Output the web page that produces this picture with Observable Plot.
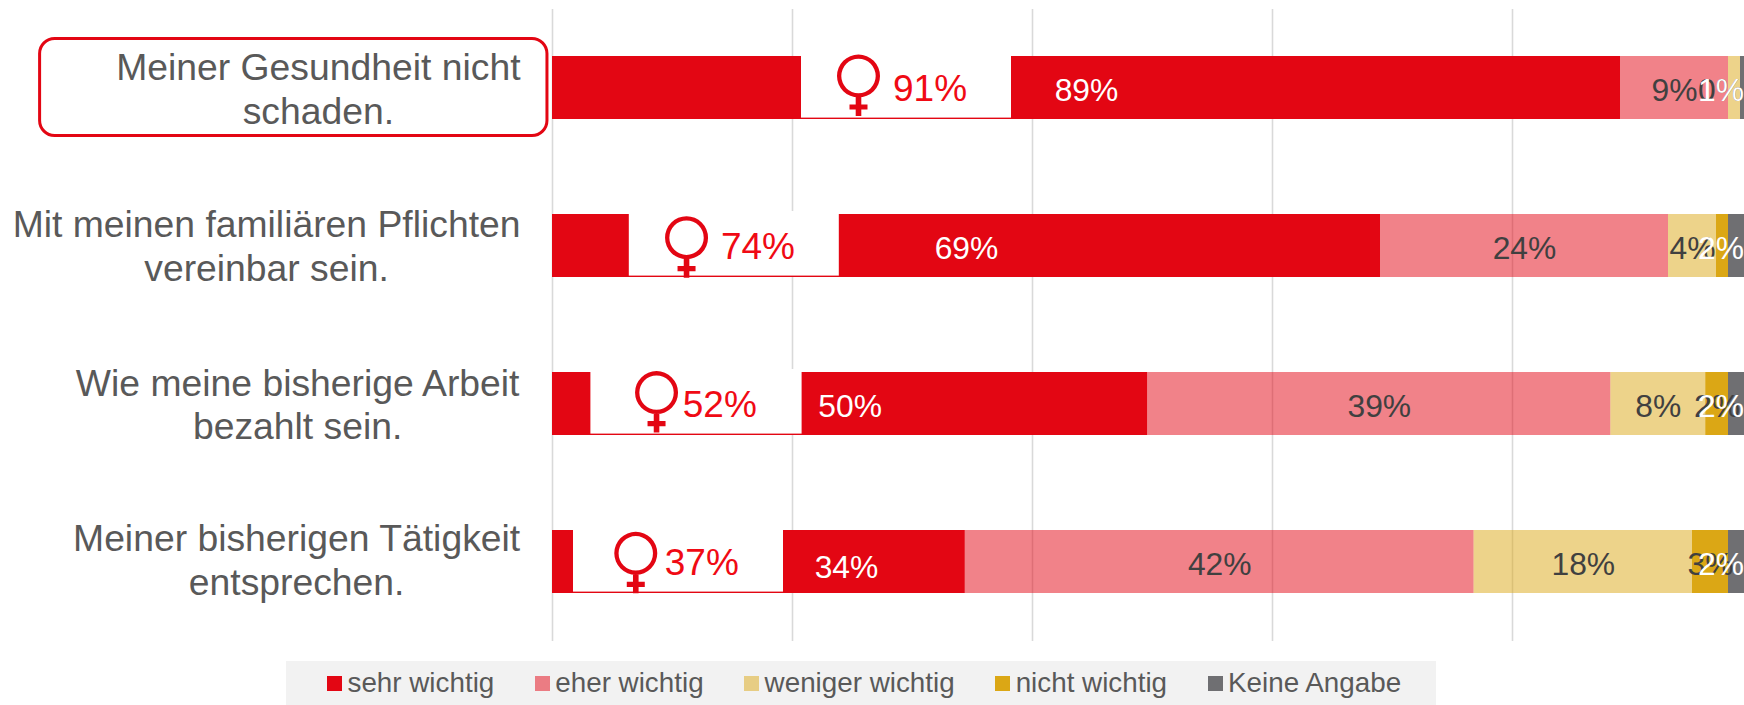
<!DOCTYPE html>
<html lang="de">
<head>
<meta charset="utf-8">
<script src="https://cdn.jsdelivr.net/npm/d3@7"></script>
<script src="https://cdn.jsdelivr.net/npm/@observablehq/plot@0.6"></script>
<style>
html,body{margin:0;padding:0;background:#fff;overflow:hidden}
#chart svg{display:block}
#legend{position:absolute;left:286px;top:661px;width:1150px;height:44px;background:#f2f2f2;overflow:hidden}
#legend > div{display:flex !important;align-items:center !important;height:44px !important;min-height:44px !important;margin:0 !important;padding:0 0 0 41px !important;
  font-family:"Liberation Sans",Arial,sans-serif !important;font-size:27.8px !important;color:#595959 !important;flex-wrap:nowrap !important}
#legend span{display:inline-flex !important;align-items:center !important;margin:0 40.5px 0 0 !important;white-space:nowrap}
#legend span svg{margin:0 5.5px 0 0 !important;display:block}
</style>
</head>
<body>
<div id="chart"></div>
<div id="legend"></div>
<script>
const categories = [
  "Meiner Gesundheit nicht\nschaden.",
  "Mit meinen familiären Pflichten\nvereinbar sein.",
  "Wie meine bisherige Arbeit\nbezahlt sein.",
  "Meiner bisherigen Tätigkeit\nentsprechen."
];
const series = ["sehr wichtig", "eher wichtig", "weniger wichtig", "nicht wichtig", "Keine Angabe"];
const colors = ["#E30613", "rgba(227,6,19,0.5)", "rgba(219,167,21,0.5)", "#DBA715", "#6F6F72"];

const sehrWichtig    = [89, 69, 49.6, 34.4];
const eherWichtig    = [9, 24, 38.6, 42.4];
const wenigerWichtig = [1, 4, 7.9, 18.2];
const nichtWichtig   = [0, 1, 1.9, 3];
const keineAngabe    = [1, 2, 2, 2];

const sehrLabels    = ["89%", "69%", "50%", "34%"];
const eherLabels    = ["9%", "24%", "39%", "42%"];
const wenigerLabels = ["", "4%", "8%", "18%"];
const nichtLabels   = ["0%", "", "2%", "3%"];
const keineLabels   = ["1%", "2%", "2%", "2%"];

const femaleValues = ["91%", "74%", "52%", "37%"];

// layout, in x-scale units (percent) and pixels
const femalePatchStart = [20.75, 6.4, 3.2, 1.75];
const femalePatchEnd   = [38.25, 23.9, 20.8, 19.25];
const femaleIconX      = [25.5, 11.17, 8.67, 6.94];
const femaleIconDy     = [-12, -8.3, -11.4, -8.7];
const femaleTextX      = [31.46, 17.12, 13.94, 12.44];
const sehrLabelShift   = [null, null, null, 24.5];
const categoryDy       = [0, -1, -0.5, -3];

const valueSeries = [sehrWichtig, eherWichtig, wenigerWichtig, nichtWichtig, keineAngabe];
const labelSeries = [sehrLabels, eherLabels, wenigerLabels, nichtLabels, keineLabels];

const segments = [];
const labels = [];
categories.forEach((cat, r) => {
  let acc = 0;
  series.forEach((name, s) => {
    const value = valueSeries[s][r];
    segments.push({cat, name, value});
    const text = labelSeries[s][r];
    if (text) {
      let x = acc + value / 2;
      if (s === 0 && sehrLabelShift[r] != null) x = sehrLabelShift[r];
      x = Math.min(x, 97.375);
      labels.push({cat, x, text, dy: (s === 0 && r === 3) ? 6 : 3, white: s === 0 || s === 4});
    }
    acc += value;
  });
});

const female = categories.map((cat, i) => ({
  cat, x1: femalePatchStart[i], x2: femalePatchEnd[i], icon: femaleIconX[i],
  dy: femaleIconDy[i], tx: femaleTextX[i], text: femaleValues[i]
}));

// Venus glyph as a custom symbol for Plot.dot
const venus = {
  draw(ctx) {
    const R = 21.5, r = 17.2, sw = 2.8, bottom = 40, barY = 31, barH = 2.6, barW = 9;
    ctx.moveTo(R, 0);
    ctx.arc(0, 0, R, 0, 2 * Math.PI);
    ctx.closePath();
    ctx.moveTo(r, 0);
    ctx.arc(0, 0, r, 0, -2 * Math.PI, true);
    ctx.closePath();
    ctx.moveTo(-sw, R - 1);
    ctx.lineTo(sw, R - 1);
    ctx.lineTo(sw, barY - barH);
    ctx.lineTo(barW, barY - barH);
    ctx.lineTo(barW, barY + barH);
    ctx.lineTo(sw, barY + barH);
    ctx.lineTo(sw, bottom);
    ctx.lineTo(-sw, bottom);
    ctx.lineTo(-sw, barY + barH);
    ctx.lineTo(-barW, barY + barH);
    ctx.lineTo(-barW, barY - barH);
    ctx.lineTo(-sw, barY - barH);
    ctx.closePath();
  }
};

const font = '"Liberation Sans", Arial, sans-serif';
const catSize = 37.3;
const pxPerUnit = 12;
const ctx2d = document.createElement("canvas").getContext("2d");
ctx2d.font = `${catSize}px "Liberation Sans"`;
const catRows = categories.map((cat, i) => {
  const w = Math.max(...cat.split("\n").map(t => ctx2d.measureText(t).width));
  return {cat, x: (-32 - w / 2) / pxPerUnit, dy: categoryDy[i]};
});

const plot = Plot.plot({
  width: 1744,
  height: 661,
  marginTop: 9,
  marginBottom: 20,
  marginLeft: 552,
  marginRight: 0,
  style: {fontFamily: font, background: "#fff", overflow: "hidden"},
  x: {domain: [0, 100], range: [552, 1752], axis: null},
  y: {domain: categories, paddingInner: 0.6, paddingOuter: 0.3, axis: null},
  color: {domain: series, range: colors},
  marks: [
    Plot.ruleX([0, 20, 40, 60, 80], {stroke: "#d9d9d9", strokeWidth: 1.6}),
    Plot.barX(segments, {x: "value", y: "cat", fill: "name", order: null}),
    Plot.barX(female, {x1: "x1", x2: "x2", y: "cat", fill: "#fff", insetTop: -3, insetBottom: 1.4}),
    ...female.map(d => Plot.dot([d], {x: "icon", y: "cat", dy: d.dy, r: 20, symbol: venus, fill: "#E30613", stroke: "none"})),
    Plot.text(female, {x: "tx", y: "cat", dy: 1, text: "text", fill: "#F00A14", fontSize: 37, textAnchor: "middle"}),
    Plot.text(labels.filter(d => !d.white), {x: "x", y: "cat", dy: 3, text: "text", fill: "#404040", fontSize: 31.8, textAnchor: "middle"}),
    ...[3, 6].map(dy => Plot.text(labels.filter(d => d.white && d.dy === dy), {x: "x", y: "cat", dy, text: "text", fill: "#fff", fontSize: 31.8, textAnchor: "middle"})),
    ...catRows.map(d => Plot.text([d], {x: "x", y: "cat", dy: d.dy, text: "cat", fill: "#595959", fontSize: catSize, lineHeight: 1.165, textAnchor: "middle"})),
    Plot.barX([categories[0]], {x1: () => -42.7, x2: () => -0.42, y: d => d, fill: "none", stroke: "#E30613", strokeWidth: 3, rx: 15, ry: 15, insetTop: -17.5, insetBottom: -16.5})
  ]
});
document.getElementById("chart").append(plot);

const legend = plot.legend("color", {legend: "swatches", swatchSize: 15});
document.getElementById("legend").append(legend);
</script>
</body>
</html>
